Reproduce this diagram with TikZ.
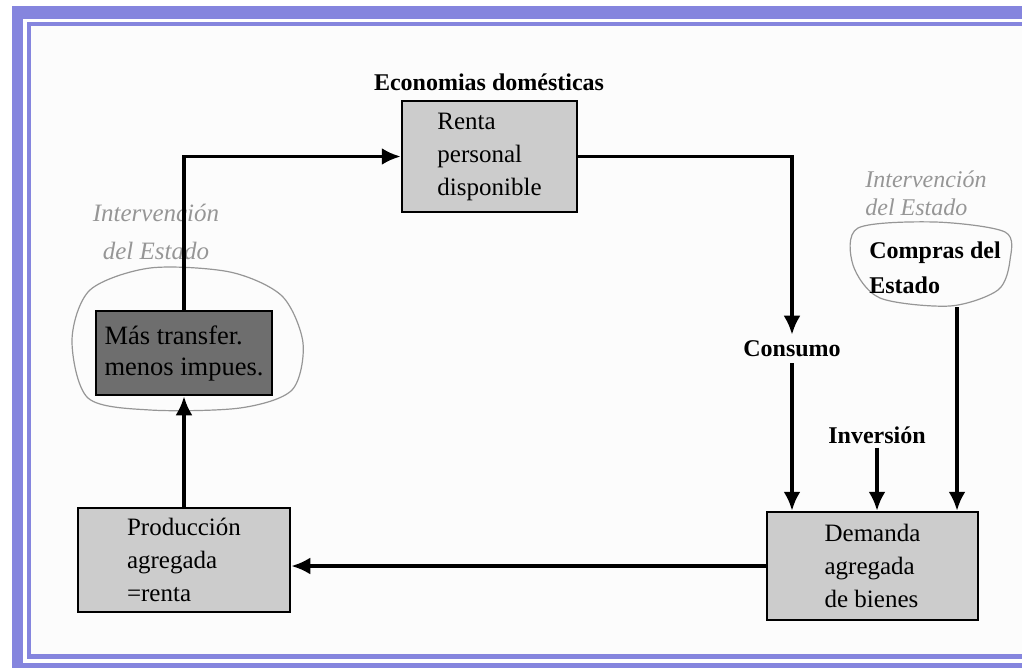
\documentclass[tikz,border=0pt]{standalone}
\usepackage{fontspec}
\setmainfont{Liberation Serif}
\usetikzlibrary{arrows.meta}
\definecolor{frameblue}{RGB}{133,133,222}
\definecolor{boxgray}{RGB}{204,204,204}
\definecolor{darkbox}{RGB}{110,110,110}
\definecolor{handgray}{RGB}{150,150,150}
\definecolor{paper}{RGB}{252,252,252}
\begin{document}
\begin{tikzpicture}[x=1pt,y=-1pt,font=\fontsize{25}{33}\selectfont]
   \tikzstyle{flow}=[fill=boxgray,draw,line width=2.5pt,align=left]
   \tikzstyle{flowdark}=[flow,fill=darkbox,font=\fontsize{26.5}{31}\selectfont]
   \tikzstyle{tag}=[font=\fontsize{24}{35}\selectfont\bfseries]
   \tikzstyle{hand}=[text=handgray,font=\fontsize{25}{30}\selectfont\itshape]
   \tikzstyle{blob}=[draw=handgray,line width=1.2pt]
   \tikzstyle{arrow}=[line width=3.5pt,draw,-{Latex[length=19pt,width=17pt]}]
   % frame
   \useasboundingbox (0,0) rectangle (1022,667) ;
   \clip (0,0) rectangle (1022,667) ;
   \fill[white] (0,0) rectangle (1022,667) ;
   \fill[frameblue] (12,6) rectangle (1040,700) ;
   \fill[white] (23,19) rectangle (1040,663) ;
   \fill[frameblue] (27,22) rectangle (1040,659) ;
   \fill[paper] (31,26) rectangle (1040,654) ;
   % boxes
   \node (econ) [tag] at (489,82) {Economias domésticas} ;
   \node (renta) [flow,minimum width=175pt,minimum height=111pt] at (489.5,156.5) {Renta\\personal\\disponible} ;
   \node (handL) [hand,align=center,font=\fontsize{25}{38}\selectfont\itshape] at (156,232) {Intervención\\del Estado} ;
   \draw[blob] plot[smooth cycle] coordinates {(72,340) (90,290) (150,268) (230,272) (282,296) (303,343) (292,390) (240,408) (150,410) (88,398)} ;
   \node (transf) [flowdark,minimum width=176pt,minimum height=84pt] at (184,353) {Más transfer.\\menos impues.} ;
   \node (prod) [flow,minimum width=212pt,minimum height=104pt] at (184,560) {Producción\\agregada\\=renta} ;
   \node (demanda) [flow,minimum width=211pt,minimum height=108pt] at (872.5,566) {Demanda\\agregada\\de bienes} ;
   \node (handR) [hand,align=left,font=\fontsize{24}{28}\selectfont\itshape] at (926,193) {Intervención\\del Estado} ;
   \draw[blob] plot[smooth cycle] coordinates {(858,228) (935,222) (1005,232) (1010,260) (998,290) (950,306) (880,298) (853,265)} ;
   \node (compras) [tag,align=left] at (935,268) {Compras del\\Estado} ;
   \coordinate (comprasbot) at (957,307) ;
   \node (cons) [tag,fill=paper,inner sep=6pt] at (792,349) {Consumo} ;
   \node (inv) [tag,inner sep=4pt] at (877,435) {Inversión} ;
   % flows
   \path [arrow] (prod) -- (transf) ;
   \path [arrow] (transf.north) |- (renta.west) ;
   \path [arrow] (renta.east) -| (cons.north) ;
   \path [arrow] (cons.south) -- (cons.south |- demanda.north) ;
   \path [arrow] (inv.south) -- (inv.south |- demanda.north) ;
   \path [arrow] (comprasbot) -- (comprasbot |- demanda.north) ;
   \path [arrow] (demanda.west) -- (demanda.west -| prod.east) ;
\end{tikzpicture}
\end{document}
